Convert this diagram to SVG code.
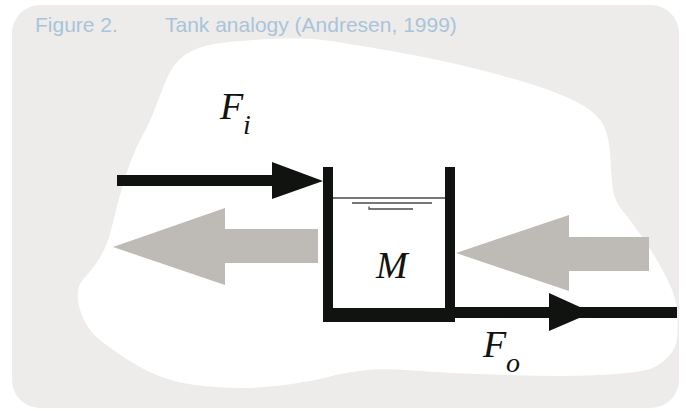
<svg xmlns="http://www.w3.org/2000/svg" width="686" height="411" viewBox="0 0 686 411">
<style>
.title{font-family:"Liberation Sans",Arial,sans-serif;font-size:21px;fill:#a9c4da}
.math{font-family:"Liberation Serif","Times New Roman",serif;font-style:italic;fill:#111311}
.blk{fill:#111311}
.gry{fill:#bebbb6}
.thin{stroke:#4a4a4a;fill:none}
</style>
<rect x="0" y="0" width="686" height="411" fill="#ffffff"/>
<rect x="12" y="5" width="667" height="403" rx="28" fill="#edecea"/>
<path fill="#ffffff" d="M 125.5 176.5 Q 133 153 141.5 137.5 Q 150 122 155 108.5 Q 160 95 166 80.5 Q 172 66 181 58 Q 190 50 205 46 Q 220 42 260 39.5 Q 300 37 322.5 40 Q 345 43 394 51.5 Q 443 60 486.5 71.5 Q 530 83 554 92 Q 578 101 590.5 110.5 Q 603 120 606.5 132.5 Q 610 145 610.5 160 Q 611 175 612.5 187.5 Q 614 200 622 210 Q 630 220 639 232.5 Q 648 245 655.5 257.5 Q 663 270 669.5 284 Q 676 298 677 309 Q 678 320 677.5 334 Q 677 348 668.5 356.5 Q 660 365 651.5 368.5 Q 643 372 609.5 374.5 Q 576 377 509.5 375 Q 443 373 413 370.5 Q 383 368 363 370.5 Q 343 373 330 376.5 Q 317 380 292 384 Q 267 388 242 388 Q 217 388 195 385 Q 173 382 156.5 375 Q 140 368 125 358 Q 110 348 100 340 Q 90 332 85 322 Q 80 312 78.5 303.5 Q 77 295 78.5 288.5 Q 80 282 86 276 Q 92 270 100 257.5 Q 108 245 113 222.5 Q 118 200 125.5 176.5 Z"/>
<g id="title">
<text class="title" x="35" y="32">Figure 2.</text>
<text class="title" x="165" y="32">Tank analogy (Andresen, 1999)</text>
</g>
<g id="connectors">
<polygon id="flow-in" class="blk" points="117,175 272,175 272,162 323,181 272,199 272,186 117,186"/>
<g id="flow-out">
<rect class="blk" x="454" y="307" width="223" height="11"/>
<polygon class="blk" points="549,293 592,312.5 549,331"/>
</g>
<polygon id="gray-left" class="gry" points="113,247 225,208 225,229 318,229 318,263 225,263 225,285"/>
<polygon id="gray-right" class="gry" points="456,253 569,215 569,237 649,237 649,271 569,271 569,291"/>
</g>
<g id="tank">
<rect class="blk" x="323" y="167" width="10" height="155"/>
<rect class="blk" x="445" y="167" width="10" height="155"/>
<rect class="blk" x="323" y="308" width="132" height="14"/>
<line class="thin" x1="333" y1="198" x2="445" y2="198" stroke-width="1.6"/>
<line class="thin" x1="352" y1="203" x2="432" y2="203" stroke-width="1.3"/>
<path class="thin" d="M369 206.5 L369 209 L413 209" stroke-width="1.3"/>
<text class="math" x="376" y="278" font-size="38">M</text>
</g>
<g id="label-fi">
<text class="math" x="220" y="119" font-size="38">F</text>
<text class="math" x="243" y="134" font-size="28">i</text>
</g>
<g id="label-fo">
<text class="math" x="483" y="357" font-size="38">F</text>
<text class="math" x="506" y="372" font-size="28">o</text>
</g>
</svg>
